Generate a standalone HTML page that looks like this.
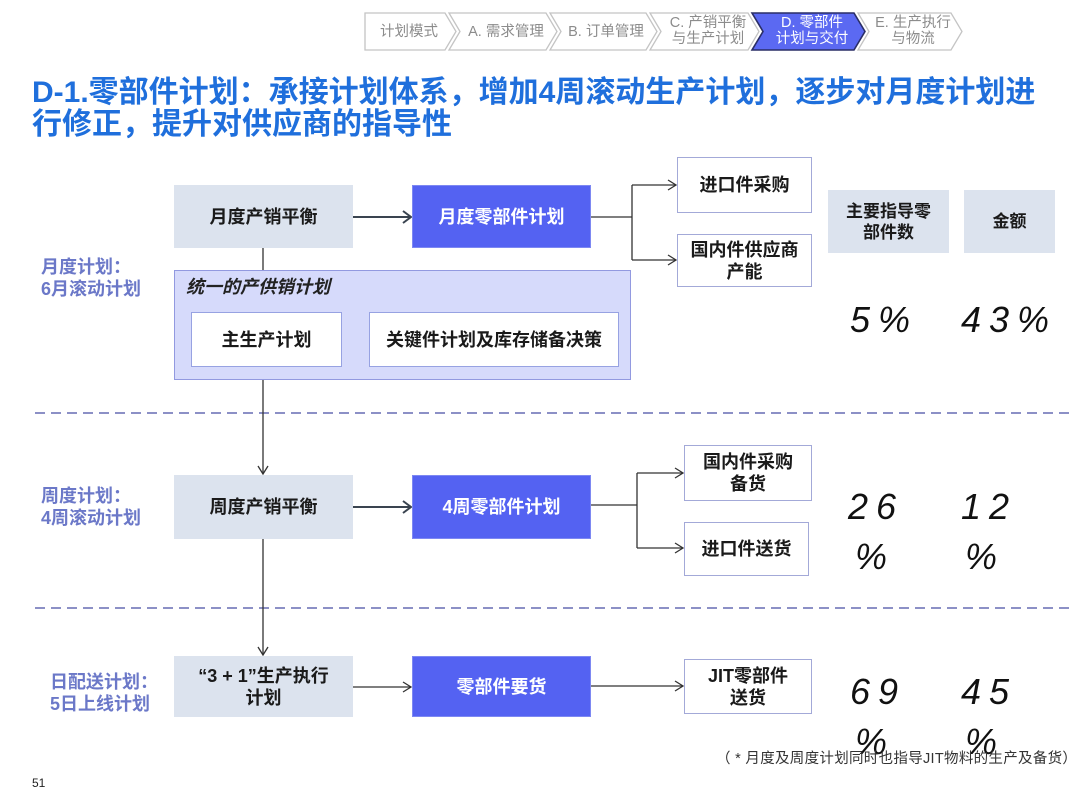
<!DOCTYPE html>
<html>
<head>
<meta charset="utf-8">
<style>
  html,body{margin:0;padding:0;background:#fff;}
  body{width:1080px;height:810px;position:relative;overflow:hidden;
       font-family:"Liberation Sans","Noto Sans CJK SC",sans-serif;}
  .abs{position:absolute;}
  .box{position:absolute;display:flex;align-items:center;justify-content:center;
       text-align:center;font-weight:bold;font-size:18px;color:#1a1a1a;line-height:22px;box-sizing:border-box;}
  .gray{background:#dce3ee;}
  .blue{background:#5462f2;border:1.5px solid #7d88f2;color:#fff;}
  .out{background:#fff;border:1.5px solid #a3a9d8;}
  .inner{background:#fff;border:1.5px solid #97a2e2;}
  .hdr{background:#dce3ee;font-size:17px;line-height:21px;}
  .lbl{position:absolute;color:#6b78c8;font-weight:bold;font-size:18px;line-height:22px;}
  .hw{position:absolute;font-family:"Liberation Sans",sans-serif;font-style:italic;
      font-size:36px;line-height:36px;letter-spacing:8px;color:#111;}
  .nav{position:absolute;font-size:14.5px;line-height:16px;color:#8c8c8c;text-align:center;white-space:nowrap;}
</style>
</head>
<body>

<!-- Breadcrumb nav -->
<svg class="abs" style="left:0;top:0" width="1080" height="60">
  <polygon points="365,13 445,13 456,31.5 445,50 365,50" fill="#fff" stroke="#c4c4c4" stroke-width="1.3"/>
  <polygon points="449,13 546,13 557,31.5 546,50 449,50 460,31.5" fill="#fff" stroke="#c4c4c4" stroke-width="1.3"/>
  <polygon points="550,13 646,13 657,31.5 646,50 550,50 561,31.5" fill="#fff" stroke="#c4c4c4" stroke-width="1.3"/>
  <polygon points="650,13 748,13 759,31.5 748,50 650,50 661,31.5" fill="#fff" stroke="#c4c4c4" stroke-width="1.3"/>
  <polygon points="752,13 854,13 865,31.5 854,50 752,50 763,31.5" fill="#5b69f2" stroke="#2a2e66" stroke-width="1.6"/>
  <polygon points="858,13 951,13 962,31.5 951,50 858,50 869,31.5" fill="#fff" stroke="#c4c4c4" stroke-width="1.3"/>
</svg>
<div class="nav" style="left:366px;top:24px;width:86px;">计划模式</div>
<div class="nav" style="left:458px;top:24px;width:96px;">A. 需求管理</div>
<div class="nav" style="left:558px;top:24px;width:96px;">B. 订单管理</div>
<div class="nav" style="left:660px;top:15px;width:96px;">C. 产销平衡<br>与生产计划</div>
<div class="nav" style="left:762px;top:15px;width:100px;color:#fff;">D. 零部件<br>计划与交付</div>
<div class="nav" style="left:866px;top:15px;width:94px;">E. 生产执行<br>与物流</div>

<!-- Title -->
<div class="abs" style="left:32px;top:77px;width:1045px;font-size:30px;line-height:32px;font-weight:bold;color:#1f6fdc;">D-1.零部件计划：承接计划体系，增加4周滚动生产计划，逐步对月度计划进<br>行修正，提升对供应商的指导性</div>

<!-- Lines -->
<svg class="abs" style="left:0;top:0" width="1080" height="810">
  <g stroke="#8c90c6" stroke-width="2" stroke-dasharray="10 6">
    <line x1="35" y1="413" x2="1073" y2="413"/>
    <line x1="35" y1="608" x2="1073" y2="608"/>
  </g>
  <g stroke="#3a4450" stroke-width="2" fill="none">
    <line x1="353" y1="217" x2="411" y2="217"/>
    <polyline points="403,211 411,217 403,223"/>
    <line x1="353" y1="507" x2="411" y2="507"/>
    <polyline points="403,501 411,507 403,513"/>
  </g>
  <g stroke="#333" stroke-width="1.3" fill="none">
    <line x1="263" y1="248" x2="263" y2="270"/>
    <line x1="263" y1="380" x2="263" y2="474"/>
    <polyline points="258,466 263,474 268,466"/>
    <line x1="263" y1="539" x2="263" y2="655"/>
    <polyline points="258,647 263,655 268,647"/>
    <line x1="591" y1="217" x2="632" y2="217"/>
    <line x1="632" y1="185" x2="632" y2="260"/>
    <line x1="632" y1="185" x2="676" y2="185"/>
    <polyline points="668,180 676,185 668,190"/>
    <line x1="632" y1="260" x2="676" y2="260"/>
    <polyline points="668,255 676,260 668,265"/>
    <line x1="591" y1="505" x2="637" y2="505"/>
    <line x1="637" y1="473" x2="637" y2="548"/>
    <line x1="637" y1="473" x2="683" y2="473"/>
    <polyline points="675,468 683,473 675,478"/>
    <line x1="637" y1="548" x2="683" y2="548"/>
    <polyline points="675,543 683,548 675,553"/>
    <line x1="353" y1="687" x2="411" y2="687"/>
    <polyline points="403,682 411,687 403,692"/>
    <line x1="591" y1="686" x2="683" y2="686"/>
    <polyline points="675,681 683,686 675,691"/>
  </g>
</svg>

<!-- Left labels -->
<div class="lbl" style="left:41px;top:256px;">月度计划：<br>6月滚动计划</div>
<div class="lbl" style="left:41px;top:485px;">周度计划：<br>4周滚动计划</div>
<div class="lbl" style="left:50px;top:671px;">日配送计划：<br>5日上线计划</div>

<!-- Row 1 -->
<div class="box gray" style="left:174px;top:185px;width:179px;height:63px;">月度产销平衡</div>
<div class="box blue" style="left:412px;top:185px;width:179px;height:63px;">月度零部件计划</div>
<div class="abs" style="left:174px;top:270px;width:457px;height:110px;background:#d6dafb;border:1.5px solid #9299e0;box-sizing:border-box;"></div>
<div class="abs" style="left:186px;top:276px;font-size:18px;line-height:22px;font-weight:bold;font-style:italic;color:#222;">统一的产供销计划</div>
<div class="box inner" style="left:191px;top:312px;width:151px;height:55px;">主生产计划</div>
<div class="box inner" style="left:369px;top:312px;width:250px;height:55px;">关键件计划及库存储备决策</div>
<div class="box out" style="left:677px;top:157px;width:135px;height:56px;">进口件采购</div>
<div class="box out" style="left:677px;top:234px;width:135px;height:53px;">国内件供应商<br>产能</div>

<!-- Headers -->
<div class="box hdr" style="left:828px;top:190px;width:121px;height:63px;">主要指导零<br>部件数</div>
<div class="box hdr" style="left:964px;top:190px;width:91px;height:63px;">金额</div>

<!-- Row 2 -->
<div class="box gray" style="left:174px;top:475px;width:179px;height:64px;">周度产销平衡</div>
<div class="box blue" style="left:412px;top:475px;width:179px;height:64px;">4周零部件计划</div>
<div class="box out" style="left:684px;top:445px;width:128px;height:56px;">国内件采购<br>备货</div>
<div class="box out" style="left:684px;top:522px;width:125px;height:54px;">进口件送货</div>

<!-- Row 3 -->
<div class="box gray" style="left:174px;top:656px;width:179px;height:61px;">“3 + 1”生产执行<br>计划</div>
<div class="box blue" style="left:412px;top:656px;width:179px;height:61px;">零部件要货</div>
<div class="box out" style="left:684px;top:659px;width:128px;height:55px;">JIT零部件<br>送货</div>

<!-- Handwritten percentages -->
<div class="hw" style="left:850px;top:302px;">5%</div>
<div class="hw" style="left:961px;top:302px;">43%</div>
<div class="hw" style="left:848px;top:489px;">26</div>
<div class="hw" style="left:855px;top:539px;">%</div>
<div class="hw" style="left:961px;top:489px;">12</div>
<div class="hw" style="left:965px;top:539px;">%</div>
<div class="hw" style="left:850px;top:674px;">69</div>
<div class="hw" style="left:855px;top:724px;">%</div>
<div class="hw" style="left:961px;top:674px;">45</div>
<div class="hw" style="left:965px;top:724px;">%</div>

<!-- Footnote -->
<div class="abs" style="left:716px;top:750px;font-size:14.5px;line-height:18px;letter-spacing:0.3px;color:#333;white-space:nowrap;">（ * 月度及周度计划同时也指导JIT物料的生产及备货）</div>

<!-- Page number -->
<div class="abs" style="left:32px;top:776px;font-size:12px;line-height:14px;color:#222;">51</div>

</body>
</html>
